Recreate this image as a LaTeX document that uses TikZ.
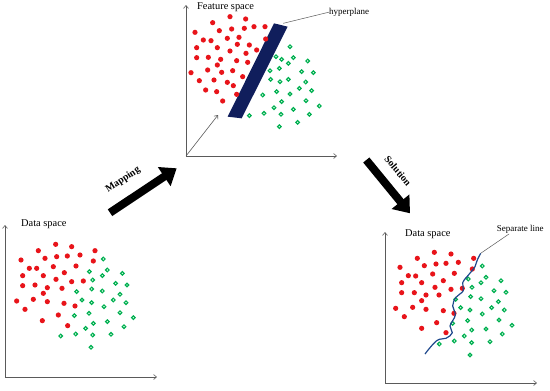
\documentclass[tikz,border=0pt]{standalone}
\usepackage{fontspec}
\setmainfont{Liberation Serif}
\usetikzlibrary{arrows.meta}
\definecolor{dotred}{RGB}{232,20,26}
\definecolor{dotgreen}{RGB}{0,176,80}
\definecolor{planeblue}{RGB}{16,30,92}
\definecolor{waveblue}{RGB}{30,72,140}
\definecolor{axisgray}{RGB}{90,90,90}
\begin{document}
\begin{tikzpicture}[x=1pt,y=-1pt,
 axisline/.style={draw=axisgray, line width=0.6pt, -{Straight Barb[length=3pt,width=5pt]}},
 greendot/.style={draw=dotgreen, line width=1.15pt},
 bigarrow/.style={line width=8pt, -{Triangle[length=15pt,width=22pt]}},
 txtlabel/.style={font=\fontsize{10.4}{12}\selectfont, inner sep=0pt},
 txtsmall/.style={font=\fontsize{9}{11}\selectfont, inner sep=0pt},
 txtbold/.style={font=\fontsize{10}{12}\selectfont\bfseries, inner sep=0pt},
 leader/.style={draw=axisgray, line width=0.5pt}]
\useasboundingbox (0,0) rectangle (550,391);

% ---------- top panel: feature space ----------
\coordinate (O1) at (186,156);
\coordinate (Y1) at (186,5);
\coordinate (X1) at (337,156);
\coordinate (Z1) at (218,115);
\draw[axisline] (O1) -- (Y1);
\draw[axisline] (O1) -- (X1);
\draw[axisline] (O1) -- (Z1);
\node[txtlabel, anchor=base west] (fs) at (197,9.3) {Feature space};

\begin{scope}[xshift=175pt, x=0.33333pt, y=-0.33333pt]
 \fill[planeblue] (297,70) -- (338,80) -- (200,355) -- (158,350) -- cycle;
 \foreach \a/\b in {165/50,212/57,113/68,237/80,270/80,170/87,208/85,133/92,60/97,
   157/115,192/112,85/120,108/122,272/117,187/133,65/143,127/143,223/135,245/150,
   165/153,213/160,65/173,100/172,137/178,185/182,218/187,127/195,98/210,48/218,
   140/217,173/212,203/230,73/242,117/240,157/247,175/257,92/270,125/275,185/283,143/303}
   \fill[dotred] (\a,\b) circle[radius=2.6pt];
 \foreach \a/\b in {345/140,303/170,320/178,355/173,340/190,398/183,285/212,313/205,
   380/215,415/218,287/238,315/245,340/238,392/246,373/265,410/272,305/275,345/282,
   263/285,320/305,393/302,297/323,355/328,433/318,223/347,267/340,318/343,403/343,
   368/367,313/380}
   \draw[greendot] (\a,\b) circle[radius=1.8pt];
\end{scope}
\coordinate (hpstart) at (283.3,23.3);
\node[txtsmall, anchor=base west] (hp) at (329,14.3) {hyperplane};
\draw[leader] (hpstart) -- (hp.west);

% ---------- bottom-left panel: data space ----------
\coordinate (O2) at (5,377);
\coordinate (Y2) at (5,225);
\coordinate (X2) at (157,377);
\draw[axisline] (O2) -- (Y2);
\draw[axisline] (O2) -- (X2);
\node[txtlabel, anchor=base west] (ds1) at (21,226.7) {Data space};

\begin{scope}[yshift=-200pt, x=0.33333pt, y=-0.33333pt]
 \foreach \a/\b in {167/133,215/140,115/152,285/152,63/180,135/175,170/170,202/168,
   240/165,280/183,88/205,110/205,160/200,228/198,68/227,130/227,193/218,168/238,
   215/245,250/243,68/257,105/255,142/263,186/265,130/280,50/303,100/298,142/305,
   192/310,225/318,75/328,175/345,127/362,203/377}
   \fill[dotred] (\a,\b) circle[radius=2.6pt];
 \foreach \a/\b in {310/177,268/215,322/210,307/227,367/220,278/240,347/250,381/255,
   230/275,275/267,307/273,360/283,246/300,275/308,340/300,378/308,312/320,267/340,
   223/347,360/338,400/353,280/370,322/365,257/385,372/380,182/408,227/402,278/405,
   333/403,273/442}
   \draw[greendot] (\a,\b) circle[radius=1.8pt];
\end{scope}

% ---------- bottom-right panel: data space with separating line ----------
\coordinate (O3) at (385,383);
\coordinate (Y3) at (385,232);
\coordinate (X3) at (537,383);
\draw[axisline] (O3) -- (Y3);
\draw[axisline] (O3) -- (X3);
\node[txtlabel, anchor=base west] (ds2) at (405,236.7) {Data space};

\begin{scope}[xshift=375pt, yshift=-200pt, x=0.33333pt, y=-0.33333pt]
 \foreach \a/\b in {178/157,228/162,127/175,148/197,183/192,213/190,250/187,296/175,
   75/202,100/227,122/228,173/222,238/220,292/207,80/248,140/248,205/242,180/262,
   228/268,262/265,80/278,118/278,153/285,192/285,140/302,62/325,113/322,153/328,
   205/332,237/340,88/350,185/368,140/385,213/398}
   \fill[dotred] (\a,\b) circle[radius=2.6pt];
 \foreach \a/\b in {322/198,280/237,333/232,318/248,378/242,291/262,357/272,393/277,
   242/298,287/290,318/296,370/305,257/323,285/330,350/323,388/330,322/342,278/362,
   233/370,372/360,411/376,290/390,333/387,268/408,382/402,193/432,238/423,290/428,
   345/425,285/465}
   \draw[greendot] (\a,\b) circle[radius=1.8pt];
\end{scope}
\draw[waveblue, line width=1.2pt] plot[smooth, tension=0.7] coordinates {
  (425,354) (436.7,340.7) (446,338.3) (452.3,332.7) (450,326) (455.3,315)
  (452.7,306) (456,297.3) (463.3,290.7) (462.7,282.7) (469.3,274) (475,266.7)
  (477.3,260) (480.7,253.3)};
\coordinate (slstart) at (480.7,253.3);
\node[txtsmall, anchor=base west] (sl) at (496.7,231.7) {Separate line};
\coordinate (slend) at (509,234);
\draw[leader] (slstart) -- (slend);

% ---------- big arrows ----------
\coordinate (m1) at (110,212.7);
\coordinate (m2) at (176.7,168.3);
\draw[bigarrow] (m1) -- (m2);
\node[txtbold, rotate=33.6] (maptxt) at (123,180) {Mapping};
\coordinate (s1) at (366.3,160);
\coordinate (s2) at (410,213.3);
\draw[bigarrow] (s1) -- (s2);
\node[txtbold, rotate=-50] (soltxt) at (398,171) {Solution};
\end{tikzpicture}
\end{document}
